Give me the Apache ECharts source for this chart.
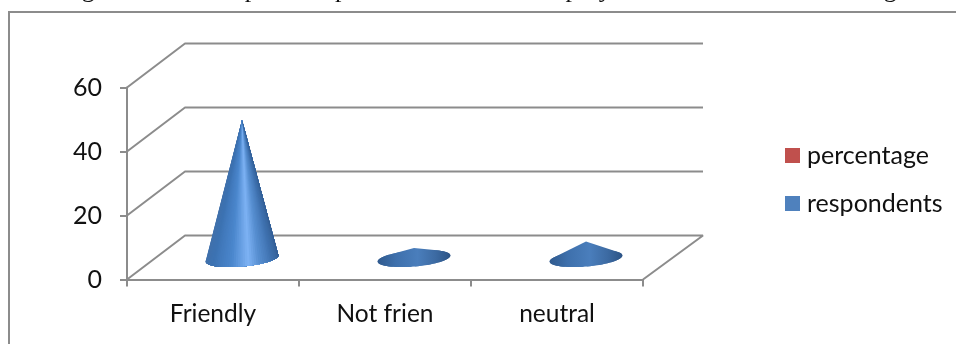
<!DOCTYPE html>
<html><head><meta charset="utf-8">
<style>html,body{margin:0;padding:0;background:#fff}#c{width:956px;height:344px}</style>
<script src="https://cdn.jsdelivr.net/npm/echarts@6/dist/echarts.min.js"></script>
</head><body><div id="c"></div>
<script>
const categories = ['Friendly', 'Not frien', 'neutral'];
const respondents = [43, 3, 5];
const percentage = [null, null, null];
const yTicks = [0, 20, 40, 60];
const captionText = 'Figure No. 5: Graphical representation of on Employees interaction with colleagues';

const GRID = '#8c8c8c', FONT = 'Lato', DX = 58, DX_END = 60, DY = -44;

function wall(params, api) {
  const v = api.value(0);
  const p = api.coord([0, v]);
  const x0 = params.coordSys.x, x1 = x0 + params.coordSys.width;
  const y = p[1];
  const style = { stroke: GRID, lineWidth: 2, fill: null, lineJoin: 'bevel' };
  const points = [[x0, y], [x0 + DX, y + DY], [x1 + DX_END, y + DY]];
  if (v === 0) points.push([x1, y]);
  return { type: 'polyline', silent: true, shape: { points }, style };
}

function shade(t, strong) {
  const stops = strong
    ? [[0, [66, 112, 168]], [.2, [60, 114, 178]], [.4, [74, 134, 204]], [.55, [125, 178, 244]], [.65, [86, 142, 208]], [.8, [62, 112, 174]], [1, [50, 92, 144]]]
    : [[0, [48, 90, 142]], [.25, [62, 112, 172]], [.55, [74, 126, 188]], [.8, [60, 106, 162]], [1, [44, 84, 134]]];
  for (let i = 1; i < stops.length; i++) {
    if (t <= stops[i][0]) {
      const a = stops[i - 1], b = stops[i], k = (t - a[0]) / (b[0] - a[0]);
      const c = a[1].map((q, j) => Math.round(q + (b[1][j] - q) * k));
      return 'rgb(' + c.join(',') + ')';
    }
  }
  return 'rgb(50,92,144)';
}

function hull(pts) {
  const s = pts.slice().sort((a, b) => a[0] - b[0] || a[1] - b[1]);
  const cross = (o, a, b) => (a[0] - o[0]) * (b[1] - o[1]) - (a[1] - o[1]) * (b[0] - o[0]);
  const lo = [], up = [];
  for (const p of s) { while (lo.length > 1 && cross(lo[lo.length - 2], lo[lo.length - 1], p) <= 0) lo.pop(); lo.push(p); }
  for (const p of s.slice().reverse()) { while (up.length > 1 && cross(up[up.length - 2], up[up.length - 1], p) <= 0) up.pop(); up.push(p); }
  return lo.slice(0, -1).concat(up.slice(0, -1));
}

function cone(params, api) {
  const base = api.coord([api.value(0), 0]);
  const top = api.coord([api.value(0), api.value(1)]);
  const cx = base[0] + DX / 2, cy = base[1] + DY / 2 + 1;
  const tip = [top[0] + DX / 2, top[1] + DY / 2];
  const rx = 36.5, ry = 8, rot = -5 * Math.PI / 180;
  const at = a => {
    const ex = rx * Math.cos(a), ey = ry * Math.sin(a);
    return [cx + ex * Math.cos(rot) - ey * Math.sin(rot), cy + ex * Math.sin(rot) + ey * Math.cos(rot)];
  };
  const ring = [];
  for (let i = 0; i < 72; i++) ring.push(at(i / 72 * 2 * Math.PI));
  const strong = api.value(1) > 20;
  const children = [{
    type: 'polygon', silent: true,
    shape: { points: hull(ring.concat([tip])) },
    style: { fill: strong ? 'rgb(70,125,190)' : {
      type: 'linear', x: 0, y: 0, x2: 1, y2: 0,
      colorStops: [0, .25, .55, .8, 1].map(o => ({ offset: o, color: shade(o, false) }))
    } }
  }];
  if (strong) {
    const n = 48;
    for (let i = 0; i < n; i++) {
      const pts = [tip];
      // every wedge runs on to the far edge so that later wedges overpaint it without seams
      for (let k = i; k <= n; k++) pts.push(at(Math.PI - k / n * Math.PI));
      children.push({
        type: 'polygon', silent: true,
        shape: { points: pts },
        style: { fill: shade((i + .5) / n, true) }
      });
    }
  }
  return { type: 'group', children };
}

const chart = echarts.init(document.getElementById('c'), null, { renderer: 'canvas' });
chart.setOption({
  animation: false,
  backgroundColor: '#fff',
  textStyle: { fontFamily: FONT },
  grid: { left: 127, right: 313, top: 87.5, bottom: 64.5 },
  xAxis: {
    type: 'category', data: categories, boundaryGap: true,
    axisLine: { lineStyle: { color: GRID, width: 2 } },
    axisTick: { show: true, length: 7, lineStyle: { color: GRID, width: 2 } },
    axisLabel: { color: '#111', fontSize: 24.5, fontFamily: FONT, margin: 22, interval: 0 }
  },
  yAxis: {
    type: 'value', min: yTicks[0], max: yTicks[3], interval: 20,
    splitLine: { show: false },
    axisLine: { show: true, lineStyle: { color: GRID, width: 2 } },
    axisTick: { show: true, length: 7, lineStyle: { color: GRID, width: 2 } },
    axisLabel: { color: '#111', fontSize: 25, fontFamily: FONT, margin: 25 }
  },
  legend: {
    orient: 'vertical', left: 780, top: 138, itemWidth: 15, itemHeight: 15, itemGap: 23,
    icon: 'rect', selectedMode: false,
    textStyle: { color: '#111', fontSize: 25, fontFamily: FONT, padding: [0, 0, 0, 2] },
    data: ['percentage', 'respondents']
  },
  graphic: [
    { type: 'polyline', silent: true, shape: { points: [[9, 344], [9, 12], [956, 12]] }, style: { stroke: '#8c8c8c', lineWidth: 2, fill: null } },
    { type: 'text', silent: true, x: 60, y: 3, style: { text: captionText, fontFamily: 'Liberation Serif', fontSize: 26, fill: '#111', align: 'left', verticalAlign: 'bottom' } }
  ],
  series: [
    { type: 'custom', name: 'walls', coordinateSystem: 'cartesian2d', renderItem: wall, encode: { y: 0 }, data: yTicks.map(v => [v]), z: 1, silent: true, clip: false },
    { type: 'custom', name: 'percentage', coordinateSystem: 'cartesian2d', renderItem: cone, itemStyle: { color: '#c0504d' }, data: percentage.map((v, i) => [i, v]), encode: { x: 0, y: 1 }, z: 2, clip: false },
    { type: 'custom', name: 'respondents', coordinateSystem: 'cartesian2d', renderItem: cone, itemStyle: { color: '#4f81bd' }, data: respondents.map((v, i) => [i, v]), encode: { x: 0, y: 1 }, z: 3, clip: false }
  ]
});
</script></body></html>
